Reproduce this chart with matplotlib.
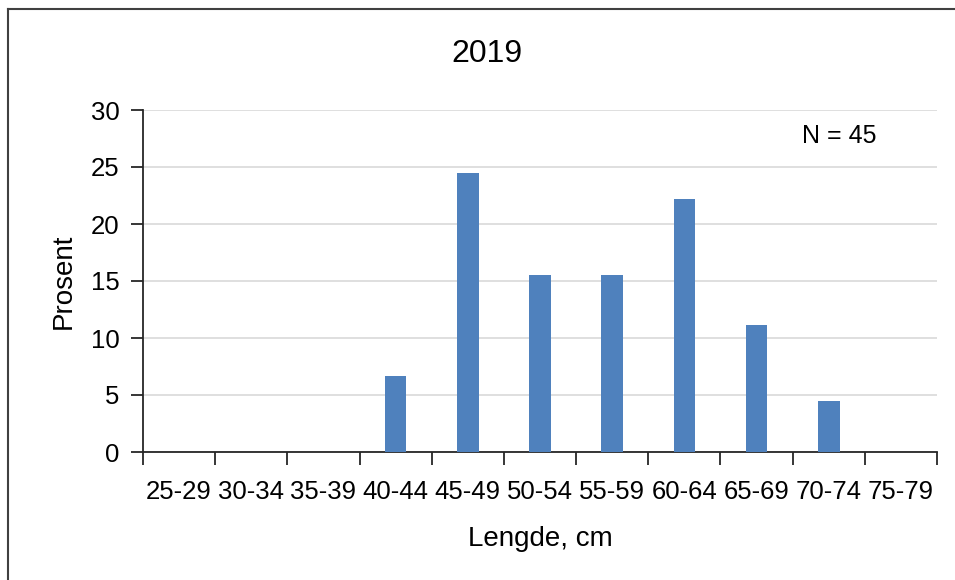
import matplotlib
matplotlib.use("Agg")
import matplotlib.pyplot as plt
from matplotlib.lines import Line2D

plt.rcParams["font.family"] = ["Liberation Sans", "DejaVu Sans"]

# ======= DATA =======
categories = ["25-29", "30-34", "35-39", "40-44", "45-49", "50-54",
              "55-59", "60-64", "65-69", "70-74", "75-79"]
percent = [0, 0, 0, 6.67, 24.44, 15.56, 15.56, 22.22, 11.11, 4.44, 0]
title = "2019"
n_label = "N = 45"
# ====================

W, H = 955, 580
fig = plt.figure(figsize=(W / 100, H / 100), dpi=100)
ax = fig.add_axes([143 / W, 1 - 452 / H, (937 - 143) / W, (452 - 110) / H])

x = list(range(len(categories)))
ax.bar(x, percent, width=0.3, color="#4F81BD", zorder=3)

ax.set_xlim(-0.5, len(categories) - 0.5)
ax.set_ylim(0, 30)
ax.set_yticks(range(0, 31, 5))
ax.yaxis.grid(True, color="#D9D9D9", linewidth=1.2, zorder=0)

# category labels centered, tick marks on boundaries
ax.set_xticks(x)
ax.set_xticklabels(categories, fontsize=18.5)
ax.tick_params(axis="x", length=0, pad=20)
ax.set_xticks([i - 0.5 for i in range(len(categories) + 1)], minor=True)
ax.tick_params(axis="x", which="minor", length=9, width=1.3, direction="out", color="#262626")
ax.tick_params(axis="y", length=9, width=1.3, direction="out", color="#262626", labelsize=18.5, pad=8)

for s in ["top", "right"]:
    ax.spines[s].set_visible(False)
for s in ["left", "bottom"]:
    ax.spines[s].set_color("#262626")
    ax.spines[s].set_linewidth(1.3)

ax.set_xlabel("Lengde, cm", fontsize=20, labelpad=16)
ax.set_ylabel("Prosent", fontsize=20, labelpad=10)

fig.text(487 / W, 1 - 54 / H, title, fontsize=23, ha="center", va="center")
ax.text(0.877, 0.925, n_label, transform=ax.transAxes, fontsize=18, ha="center", va="center")

# chart border (left and top only visible)
fig.add_artist(Line2D([8 / W, 8 / W], [0, 1 - 9 / H], transform=fig.transFigure, color="#404040", linewidth=1.5))
fig.add_artist(Line2D([8 / W, 1], [1 - 9 / H, 1 - 9 / H], transform=fig.transFigure, color="#404040", linewidth=1.5))

fig.savefig("out.png", dpi=100, facecolor="white")
